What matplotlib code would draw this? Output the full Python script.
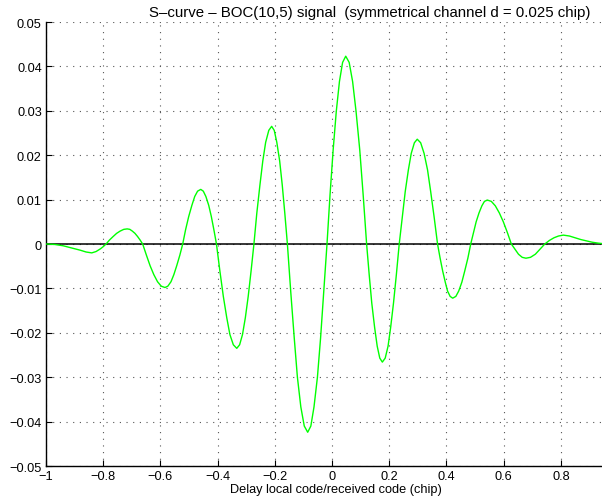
import matplotlib
matplotlib.use("Agg")
import matplotlib.pyplot as plt

plt.rcParams["font.family"] = ["Liberation Sans", "DejaVu Sans"]

# delay between local and received code (chip)
delay = [
    -1.000, -0.970, -0.940, -0.910, -0.880, -0.860, -0.840, -0.825, -0.810, -0.800,
    -0.790, -0.778, -0.765, -0.753, -0.741, -0.728, -0.716, -0.707, -0.698, -0.689,
    -0.680, -0.671, -0.662, -0.649, -0.636, -0.623, -0.610, -0.597, -0.584, -0.574,
    -0.563, -0.553, -0.543, -0.532, -0.522, -0.512, -0.501, -0.490, -0.480, -0.470,
    -0.459, -0.450, -0.441, -0.431, -0.422, -0.413, -0.404, -0.392, -0.380, -0.368,
    -0.357, -0.345, -0.333, -0.323, -0.313, -0.303, -0.293, -0.283, -0.273, -0.263,
    -0.252, -0.242, -0.232, -0.221, -0.211, -0.202, -0.193, -0.183, -0.174, -0.165,
    -0.156, -0.144, -0.132, -0.121, -0.109, -0.097, -0.085, -0.074, -0.063, -0.051,
    -0.040, -0.029, -0.0175, -0.007, 0.004, 0.015, 0.026, 0.037, 0.048, 0.060,
    0.072, 0.084, 0.097, 0.109, 0.121, 0.130, 0.139, 0.149, 0.158, 0.167,
    0.176, 0.186, 0.196, 0.205, 0.215, 0.225, 0.235, 0.246, 0.256, 0.267,
    0.277, 0.288, 0.298, 0.310, 0.322, 0.334, 0.345, 0.357, 0.369, 0.378,
    0.387, 0.396, 0.404, 0.413, 0.422, 0.433, 0.443, 0.454, 0.464, 0.475,
    0.485, 0.495, 0.504, 0.514, 0.524, 0.533, 0.543, 0.557, 0.571, 0.585,
    0.599, 0.613, 0.627, 0.640, 0.652, 0.665, 0.678, 0.694, 0.711, 0.727,
    0.744, 0.760, 0.776, 0.792, 0.809, 0.830, 0.850, 0.870, 0.890, 0.910,
    0.930, 0.944,
]

# discriminator output (S-curve)
s_curve = [
    0.0000, -0.0001, -0.0004, -0.0009, -0.0014, -0.0018, -0.0020, -0.0017, -0.0011, -0.0006,
    0.0000, 0.0009, 0.0017, 0.0024, 0.0029, 0.0033, 0.0034, 0.0033, 0.0029, 0.0024,
    0.0017, 0.0009, 0.0000, -0.0025, -0.0049, -0.0069, -0.0085, -0.0095, -0.0098, -0.0095,
    -0.0085, -0.0069, -0.0049, -0.0025, 0.0000, 0.0032, 0.0062, 0.0087, 0.0107, 0.0119,
    0.0123, 0.0119, 0.0107, 0.0087, 0.0062, 0.0032, 0.0000, -0.0061, -0.0118, -0.0166,
    -0.0204, -0.0227, -0.0235, -0.0227, -0.0204, -0.0166, -0.0118, -0.0061, 0.0000, 0.0069,
    0.0133, 0.0187, 0.0229, 0.0256, 0.0265, 0.0256, 0.0229, 0.0187, 0.0133, 0.0069,
    0.0000, -0.0110, -0.0212, -0.0300, -0.0367, -0.0410, -0.0424, -0.0410, -0.0367, -0.0300,
    -0.0212, -0.0110, 0.0000, 0.0110, 0.0212, 0.0299, 0.0366, 0.0409, 0.0423, 0.0409,
    0.0366, 0.0299, 0.0212, 0.0110, 0.0000, -0.0069, -0.0133, -0.0188, -0.0230, -0.0257,
    -0.0266, -0.0257, -0.0230, -0.0188, -0.0133, -0.0069, 0.0000, 0.0061, 0.0118, 0.0167,
    0.0204, 0.0228, 0.0236, 0.0228, 0.0204, 0.0167, 0.0118, 0.0061, 0.0000, -0.0032,
    -0.0061, -0.0086, -0.0106, -0.0118, -0.0122, -0.0118, -0.0106, -0.0086, -0.0061, -0.0032,
    0.0000, 0.0026, 0.0050, 0.0070, 0.0086, 0.0096, 0.0099, 0.0096, 0.0086, 0.0070,
    0.0050, 0.0026, 0.0000, -0.0012, -0.0023, -0.0030, -0.0032, -0.0030, -0.0023, -0.0012,
    0.0000, 0.0008, 0.0014, 0.0018, 0.0020, 0.0018, 0.0014, 0.0010, 0.0007, 0.0004,
    0.0002, 0.0001,
]

xticks = [-1, -0.8, -0.6, -0.4, -0.2, 0, 0.2, 0.4, 0.6, 0.8]
xlabels = ["\u22121", "\u22120.8", "\u22120.6", "\u22120.4", "\u22120.2",
           "0", "0.2", "0.4", "0.6", "0.8"]
yticks = [-0.05, -0.04, -0.03, -0.02, -0.01, 0, 0.01, 0.02, 0.03, 0.04, 0.05]
ylabels = ["\u22120.05", "\u22120.04", "\u22120.03", "\u22120.02", "\u22120.01",
           "0", "0.01", "0.02", "0.03", "0.04", "0.05"]

fig = plt.figure(figsize=(6.02, 5.02), dpi=100)
ax = fig.add_axes([46 / 602, 35 / 502, 556 / 602, 444 / 502])

ax.axhline(0, color="black", lw=1.1, zorder=2)
ax.plot(delay, s_curve, color="#00ff00", lw=1.0, zorder=3)

ax.set_xlim(-1, 0.944)
ax.set_ylim(-0.05, 0.05)
ax.set_xticks(xticks)
ax.set_xticklabels(xlabels)
ax.set_yticks(yticks)
ax.set_yticklabels(ylabels)
ax.tick_params(direction="in", length=4, width=0.8, labelsize=9.2, pad=3)
ax.grid(True, color="#555555", linestyle=(0, (1, 5)), lw=0.8)

for side in ("top", "right"):
    ax.spines[side].set_visible(False)
for side in ("left", "bottom"):
    ax.spines[side].set_linewidth(1.0)

ax.set_xlabel("Delay local code/received code (chip)", fontsize=9.2, va="center")
ax.xaxis.set_label_coords((336 - 46) / 556, -(490 - 467) / 444)
fig.text(370 / 602, 1 - 13 / 502,
         "S\u2013curve \u2013 BOC(10,5) signal  (symmetrical channel d = 0.025 chip)",
         ha="center", va="center", fontsize=10.8)

fig.savefig("out.png", dpi=100)
